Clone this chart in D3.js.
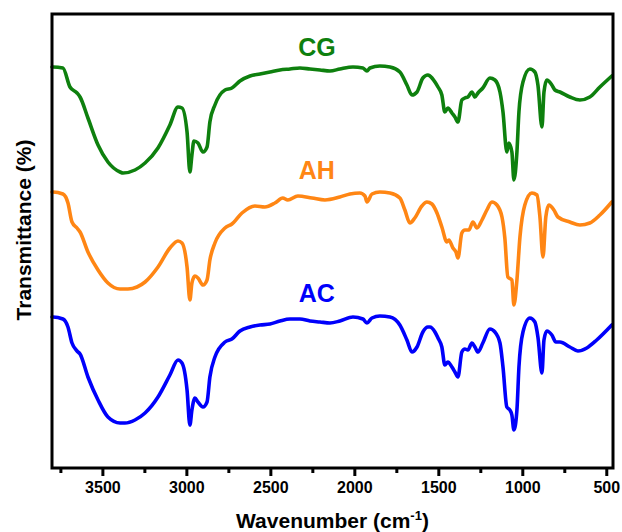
<!DOCTYPE html>
<html>
<head>
<meta charset="utf-8">
<title>FTIR spectra</title>
<script src="https://cdn.jsdelivr.net/npm/d3@7/dist/d3.min.js"></script>
<style>
  body { margin: 0; background: #fff; }
  svg text { font-family: Arial, "Liberation Sans", sans-serif; font-weight: bold; }
</style>
</head>
<body>
<script>
// wavenumber (cm-1), transmittance (arbitrary units, curves stacked)
var cgData = [
  [3800,401],[3794,401],[3735,400],[3693,381],[3651,375],[3633,371],[3586,350],[3526,323],[3467,306],
  [3395,296],[3377,295],[3306,298],[3246,305],[3169,320],[3098,343],[3050,361],[3026,360],[2996,336],
  [2979,296],[2967,313],[2955,327],[2931,325],[2901,316],[2877,321],[2860,346],[2830,363],[2770,378],
  [2729,380],[2681,387],[2621,392],[2562,394],[2502,396],[2443,398],[2383,399],[2324,400],[2264,399],
  [2205,398],[2145,397],[2086,399],[2008,401],[1949,400],[1925,397],[1907,400],[1848,402],[1788,401],
  [1729,396],[1687,383],[1657,373],[1627,376],[1592,390],[1562,393],[1550,392],[1520,386],[1502,381],
  [1479,373],[1461,356],[1443,360],[1419,355],[1401,351],[1383,346],[1360,368],[1342,370],[1324,371],
  [1300,376],[1282,371],[1264,375],[1235,380],[1193,390],[1163,388],[1133,376],[1115,356],[1092,316],
  [1080,325],[1062,316],[1050,288],[1032,316],[1020,356],[996,386],[955,399],[925,396],[907,383],
  [883,341],[871,376],[854,388],[824,383],[806,378],[776,376],[717,371],[657,368],[598,371],[538,381],
  [467,392]
];

var ahData = [
  [3800,276],[3794,276],[3735,274],[3705,265],[3681,246],[3651,240],[3633,236],[3586,216],[3526,198],
  [3467,185],[3395,179],[3348,179],[3294,181],[3246,186],[3169,201],[3098,220],[3050,227],[3026,225],
  [2996,201],[2979,168],[2967,185],[2949,192],[2931,190],[2901,183],[2877,188],[2860,208],[2830,225],
  [2770,240],[2729,244],[2669,255],[2592,262],[2533,261],[2473,265],[2426,270],[2396,268],[2336,272],
  [2252,270],[2175,268],[2086,271],[2026,274],[1967,275],[1937,272],[1925,266],[1895,274],[1848,276],
  [1788,275],[1729,270],[1699,258],[1669,245],[1640,250],[1598,262],[1568,266],[1538,264],[1508,255],
  [1479,241],[1449,226],[1437,228],[1413,220],[1395,216],[1383,210],[1360,235],[1342,238],[1318,238],
  [1294,246],[1270,240],[1240,248],[1211,258],[1181,266],[1151,263],[1121,251],[1104,230],[1086,191],
  [1062,188],[1050,163],[1032,188],[1014,231],[985,263],[943,275],[913,273],[895,251],[877,211],
  [860,251],[842,263],[812,258],[788,251],[717,246],[657,243],[598,245],[538,253],[467,266]
];

var acData = [
  [3800,151],[3794,151],[3735,149],[3705,141],[3681,125],[3651,117],[3633,114],[3586,91],[3526,68],
  [3467,51],[3395,45],[3366,45],[3306,48],[3246,55],[3169,71],[3098,93],[3050,108],[3026,105],
  [2996,78],[2979,43],[2967,58],[2949,70],[2931,66],[2901,61],[2877,66],[2860,91],[2830,111],
  [2770,126],[2729,129],[2681,137],[2621,141],[2562,143],[2502,144],[2443,147],[2383,149],[2324,149],
  [2264,147],[2205,146],[2145,145],[2086,147],[2008,151],[1949,149],[1925,145],[1895,150],[1848,152],
  [1788,151],[1729,143],[1687,128],[1657,116],[1627,121],[1592,136],[1562,141],[1550,141],[1520,136],
  [1502,130],[1479,121],[1461,103],[1443,106],[1419,101],[1401,96],[1383,91],[1360,116],[1342,119],
  [1324,118],[1300,125],[1282,121],[1264,116],[1235,125],[1193,139],[1163,136],[1133,125],[1115,101],
  [1092,61],[1074,58],[1062,53],[1050,38],[1032,58],[1020,101],[996,136],[955,150],[925,146],
  [907,131],[883,95],[871,128],[854,137],[824,133],[800,126],[776,126],[717,121],[669,117],
  [616,120],[557,128],[467,143]
];

var seriesNames = ["CG", "AH", "AC"];
var seriesColors = ["#0e800e", "#ff8614", "#0000fb"];
var labelAt = [[2223, 412], [2223, 289], [2223, 166]];   // where each name sits (wavenumber, value)

var majorTicks = [3500, 3000, 2500, 2000, 1500, 1000, 500];
var minorTicks = [3750, 3250, 2750, 2250, 1750, 1250, 750];

var width = 622, height = 532;
var margin = { top: 14, right: 9, bottom: 64, left: 52 };

var svg = d3.select("body").append("svg").attr("width", width).attr("height", height);

var x = d3.scaleLinear().domain([3800, 460]).range([margin.left, width - margin.right]);
var y = d3.scaleLinear().domain([0, 454]).range([height - margin.bottom, margin.top]);

var line = d3.line()
  .x(function(d) { return x(d[0]); })
  .y(function(d) { return y(d[1]); })
  .curve(d3.curveMonotoneX);

var allSeries = [cgData, ahData, acData];

svg.append("g")
  .selectAll("path")
  .data(allSeries)
  .enter()
  .append("path")
  .attr("d", line)
  .attr("fill", "none")
  .attr("stroke", function(d, i) { return seriesColors[i]; })
  .attr("stroke-width", 3.6)
  .attr("stroke-linejoin", "round")
  .attr("stroke-linecap", "round");

// series names
svg.append("g")
  .selectAll("text")
  .data(seriesNames)
  .enter()
  .append("text")
  .attr("x", function(d, i) { return x(labelAt[i][0]); })
  .attr("y", function(d, i) { return y(labelAt[i][1]); })
  .attr("text-anchor", "middle")
  .attr("font-size", "25px")
  .attr("fill", function(d, i) { return seriesColors[i]; })
  .text(function(d) { return d; });

// x axis: major and minor ticks
var yb = height - margin.bottom;
var gx = svg.append("g")
  .attr("transform", "translate(0," + yb + ")")
  .call(d3.axisBottom(x).tickValues(majorTicks).tickSize(8).tickPadding(6).tickFormat(d3.format("d")));
gx.select(".domain").remove();
gx.selectAll(".tick line").attr("stroke", "#000").attr("stroke-width", 3);
gx.selectAll(".tick text").attr("font-size", "16px").attr("fill", "#000");

var gm = svg.append("g")
  .attr("transform", "translate(0," + yb + ")")
  .call(d3.axisBottom(x).tickValues(minorTicks).tickSize(5).tickFormat(""));
gm.select(".domain").remove();
gm.selectAll(".tick line").attr("stroke", "#000").attr("stroke-width", 3);

// frame
svg.append("rect")
  .attr("x", margin.left)
  .attr("y", margin.top)
  .attr("width", width - margin.left - margin.right)
  .attr("height", height - margin.top - margin.bottom)
  .attr("fill", "none")
  .attr("stroke", "#000")
  .attr("stroke-width", 3);

// axis titles
var xt = svg.append("text")
  .attr("x", (margin.left + width - margin.right) / 2)
  .attr("y", 528)
  .attr("text-anchor", "middle")
  .attr("font-size", "21px")
  .attr("fill", "#000");
xt.append("tspan").text("Wavenumber (cm");
xt.append("tspan").attr("font-size", "13px").attr("dy", "-8").text("-1");
xt.append("tspan").attr("dy", "8").text(")");

svg.append("text")
  .attr("transform", "translate(31,230) rotate(-90)")
  .attr("text-anchor", "middle")
  .attr("font-size", "21px")
  .attr("fill", "#000")
  .text("Transmittance (%)");
</script>
</body>
</html>
